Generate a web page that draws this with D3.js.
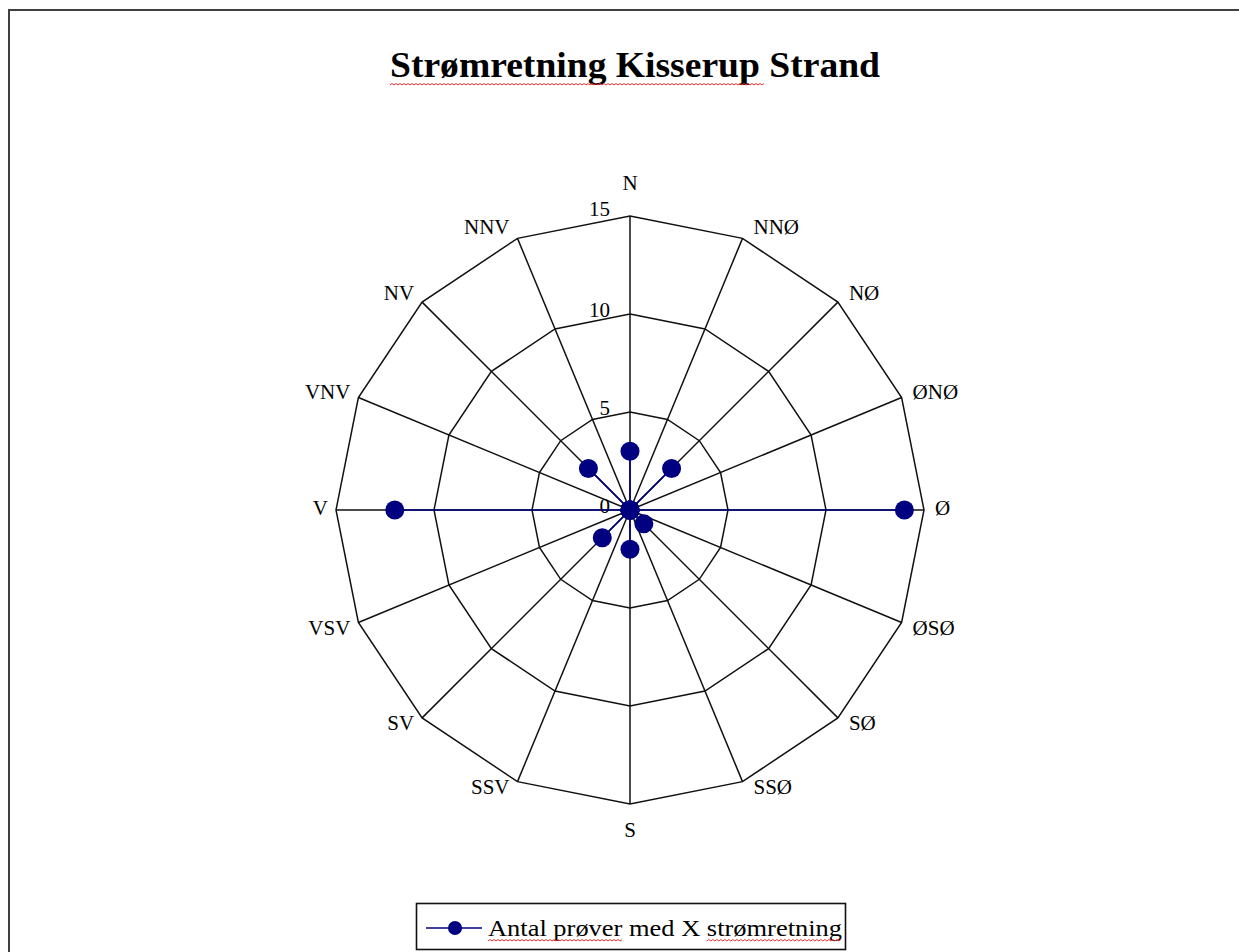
<!DOCTYPE html>
<html>
<head>
<meta charset="utf-8">
<script src="https://cdn.jsdelivr.net/npm/d3@7"></script>
<style>
  body { margin: 0; background: #fff; }
  svg { display: block; }
  text { font-family: "Liberation Serif", "Times New Roman", serif; fill: #000; }
</style>
</head>
<body>
<div id="chart"></div>
<script>
const directions = ['N', 'NNØ', 'NØ', 'ØNØ', 'Ø', 'ØSØ', 'SØ', 'SSØ', 'S', 'SSV', 'SV', 'VSV', 'V', 'VNV', 'NV', 'NNV']
const counts = [3, 0, 3, 0, 14, 0, 1, 0, 2, 0, 2, 0, 12, 0, 3, 0]
const ticks = [0, 5, 10, 15]
const title = 'Strømretning Kisserup Strand'
const seriesName = 'Antal prøver med X strømretning'

const width = 1239
const height = 952
const cx = 630
const cy = 510
const R = 294
const NAVY = '#000080'
const LABEL_SIZE = 21

const svg = d3.select('#chart').append('svg')
  .attr('width', width)
  .attr('height', height)

// outer frame (runs off right and bottom edge)
svg.append('path')
  .attr('d', `M9,${height + 5}V10H${width + 5}`)
  .attr('fill', 'none').attr('stroke', '#404040').attr('stroke-width', 2)

const angle = d3.scalePoint().domain(directions).range([0, 2 * Math.PI * 15 / 16])
const r = d3.scaleLinear().domain([0, 15]).range([0, R])
const px = (a, v) => cx + r(v) * Math.sin(a)
const py = (a, v) => cy - r(v) * Math.cos(a)

// wavy spell-check underline
function squiggle (x0, x1, y) {
  let d = `M${x0},${y}`
  let up = true
  for (let x = x0 + 2; x <= x1; x += 2) {
    d += `L${x},${y + (up ? -1.5 : 0)}`
    up = !up
  }
  return d
}

// title
const t = svg.append('text')
  .attr('x', 390).attr('y', 77)
  .attr('font-size', 35).attr('font-weight', 'bold')
  .attr('textLength', 490).attr('lengthAdjust', 'spacingAndGlyphs')
  .text(title)
{
  const node = t.node()
  const part = node.getSubStringLength(0, 'Strømretning Kisserup'.length)
  svg.append('path').attr('d', squiggle(390, 390 + part + 6, 85))
    .attr('fill', 'none').attr('stroke', '#f03030').attr('stroke-width', 1)
}

// grid rings
const grid = svg.append('g').attr('stroke', '#111').attr('stroke-width', 1.5).attr('fill', 'none')
ticks.filter(v => v > 0).forEach(v => {
  grid.append('path')
    .attr('d', d3.line()(directions.map(d => [px(angle(d), v), py(angle(d), v)])) + 'Z')
})
grid.selectAll('line.spoke')
  .data(directions)
  .join('line')
  .attr('class', 'spoke')
  .attr('x1', cx).attr('y1', cy)
  .attr('x2', d => px(angle(d), 15))
  .attr('y2', d => py(angle(d), 15))

// tick labels
svg.selectAll('text.tick')
  .data(ticks)
  .join('text')
  .attr('class', 'tick')
  .attr('x', cx - 20)
  .attr('y', d => cy - r(d) + (d === 15 ? 0 : 3))
  .attr('text-anchor', 'end')
  .attr('font-size', LABEL_SIZE)
  .text(d => d)

// direction labels
svg.selectAll('text.dir')
  .data(directions)
  .join('text')
  .attr('class', 'dir')
  .attr('x', d => {
    const a = angle(d)
    const s = Math.sin(a)
    return px(a, 15) + (Math.abs(s) < 0.01 ? 0 : (s > 0 ? 11 : -8))
  })
  .attr('y', d => {
    const a = angle(d)
    const c = Math.cos(a)
    let off
    if (c > 0.99) off = -33
    else if (c < -0.99) off = 26
    else if (c > 0.01) off = -10 * c - 2
    else if (c < -0.01) off = 5
    else off = -2
    return py(a, 15) + off + 7
  })
  .attr('text-anchor', d => {
    const s = Math.sin(angle(d))
    return Math.abs(s) < 0.01 ? 'middle' : (s > 0 ? 'start' : 'end')
  })
  .attr('font-size', LABEL_SIZE)
  .text(d => d)

// series
const pts = directions.map((d, i) => [px(angle(d), counts[i]), py(angle(d), counts[i])])
svg.append('path')
  .attr('d', d3.line()(pts) + 'Z')
  .attr('fill', 'none').attr('stroke', NAVY).attr('stroke-width', 1.6)
svg.selectAll('circle.pt')
  .data(pts)
  .join('circle')
  .attr('class', 'pt')
  .attr('cx', d => d[0]).attr('cy', d => d[1])
  .attr('r', 9.5).attr('fill', NAVY)

// legend
const lg = svg.append('g')
lg.append('rect')
  .attr('x', 416.5).attr('y', 903.5).attr('width', 429).attr('height', 46)
  .attr('fill', '#fff').attr('stroke', '#111').attr('stroke-width', 1.6)
lg.append('line')
  .attr('x1', 426).attr('x2', 482).attr('y1', 928).attr('y2', 928)
  .attr('stroke', NAVY).attr('stroke-width', 1.6)
lg.append('circle').attr('cx', 455).attr('cy', 928).attr('r', 7).attr('fill', NAVY)
const lt = lg.append('text')
  .attr('x', 488).attr('y', 936)
  .attr('font-size', 24)
  .attr('textLength', 354).attr('lengthAdjust', 'spacingAndGlyphs')
  .text(seriesName)
{
  const node = lt.node()
  const x0 = 488
  const a1 = node.getSubStringLength(0, 'Antal prøver'.length)
  const s2 = node.getSubStringLength(0, 'Antal prøver med X '.length)
  const full = 354
  ;[[x0, x0 + a1], [x0 + s2, x0 + full]].forEach(([a, b]) => {
    lg.append('path').attr('d', squiggle(a, b, 941))
      .attr('fill', 'none').attr('stroke', '#f03030').attr('stroke-width', 1)
  })
}
</script>
</body>
</html>
